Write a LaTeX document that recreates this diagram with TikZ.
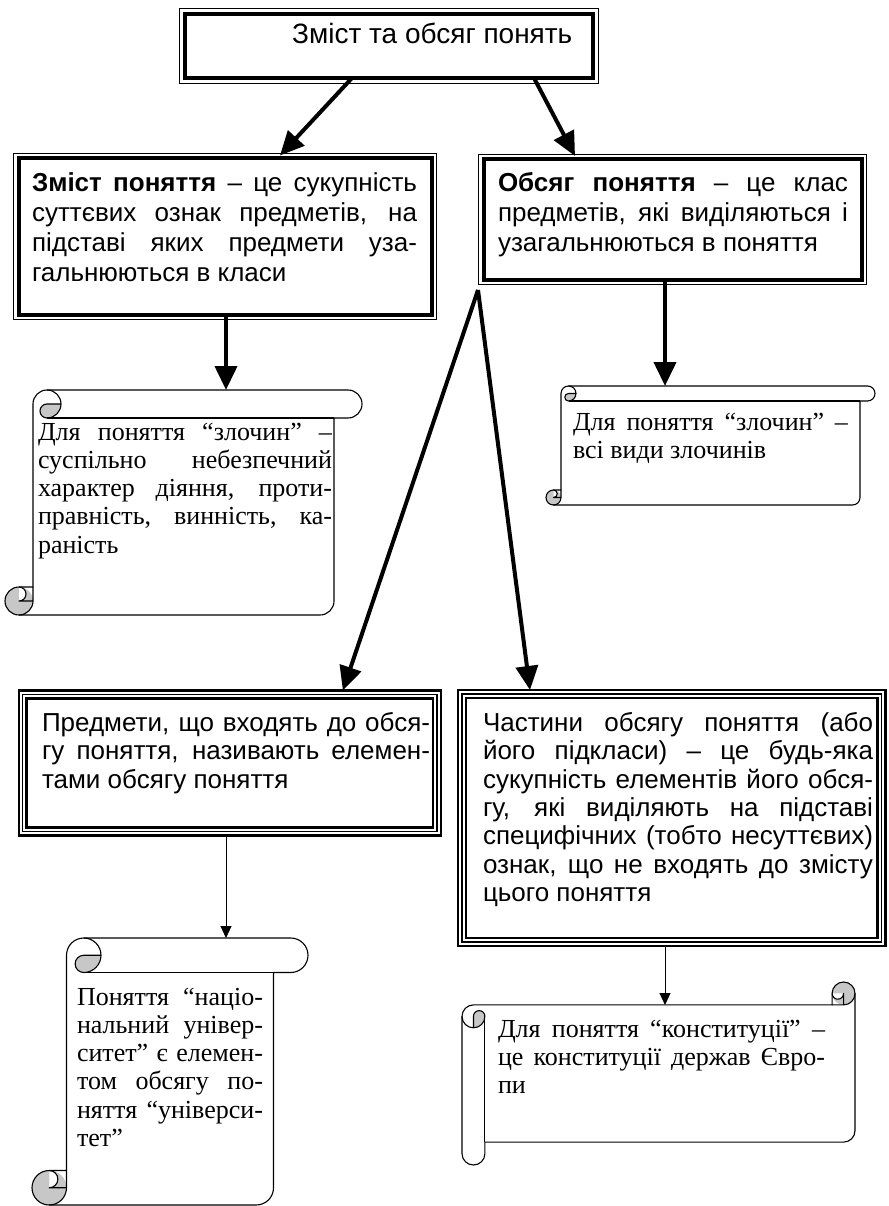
\documentclass[tikz,border=0pt]{standalone}
\usepackage{fontspec}
\newfontfamily\fsans{Liberation Sans}
\newfontfamily\fserif{Liberation Serif}
\usetikzlibrary{arrows.meta}
\definecolor{scrollgray}{gray}{0.78}
\newcommand{\jl}[2]{\leavevmode\hbox to #1pt{\spaceskip=\fontdimen2\font plus 1fil minus \fontdimen4\font\relax\strut #2}}
\newcommand{\lastln}[1]{\leavevmode\hbox{\spaceskip=\fontdimen2\font\relax\strut #1}}
\newcommand{\vscrollshape}[5]{%
 \pgfmathsetmacro{\scL}{#1}\pgfmathsetmacro{\scT}{#2}%
 \pgfmathsetmacro{\scR}{#3}\pgfmathsetmacro{\scB}{#4}%
 \pgfmathsetmacro{\scC}{#5}\pgfmathsetmacro{\scH}{#5/2}\pgfmathsetmacro{\scQ}{#5/4}%
 \fill[white] (\scL+\scC,\scT+\scH) arc[start angle=180,delta angle=90,radius=\scH]
   -- (\scR-\scH,\scT) arc[start angle=270,delta angle=180,radius=\scH]
   -- (\scR-\scC,\scT+\scC) -- (\scR-\scC,\scB-\scH) arc[start angle=0,delta angle=90,radius=\scH]
   -- (\scL+\scH,\scB) arc[start angle=90,delta angle=180,radius=\scH]
   -- (\scL+\scC,\scB-\scC) -- cycle;
 \fill[scrollgray] (\scL+2*\scC,\scT+\scH) arc[start angle=0,delta angle=90,radius=\scH]
   arc[start angle=90,delta angle=180,radius=\scQ] -- cycle;
 \fill[scrollgray] (\scL+\scH,\scB-\scH) circle[radius=\scH];
 \fill[white] (\scL+\scH,\scB-\scC) arc[start angle=270,delta angle=180,radius=\scQ] -- cycle;
 \draw[scrollline] (\scL+\scC,\scB-\scC) -- (\scL+\scC,\scT+\scH) arc[start angle=180,delta angle=90,radius=\scH]
   -- (\scR-\scH,\scT) arc[start angle=270,delta angle=180,radius=\scH]
   -- (\scR-\scC,\scT+\scC) -- (\scR-\scC,\scB-\scH) arc[start angle=0,delta angle=90,radius=\scH]
   -- (\scL+\scH,\scB) arc[start angle=90,delta angle=180,radius=\scH] -- cycle;
 \draw[scrollline] (\scL+\scC+\scH,\scT) arc[start angle=270,delta angle=180,radius=\scH]
   arc[start angle=90,delta angle=180,radius=\scQ] -- (\scL+2*\scC,\scT+\scH);
 \draw[scrollline] (\scR-\scC,\scT+\scC) -- (\scL+\scC+\scH,\scT+\scC);
 \draw[scrollline] (\scL+\scH,\scB-\scC) arc[start angle=270,delta angle=180,radius=\scQ] -- (\scL+\scC,\scB-\scH);
 \draw[scrollline] (\scL+\scH,\scB) arc[start angle=90,delta angle=-90,radius=\scH] -- (\scL+\scC,\scB-\scC);
}
\tikzset{
 thickbox/.style={draw, line width=4pt, fill=white, inner sep=0pt, outer sep=0pt},
 thinline/.style={draw, line width=0.9pt},
 tribox/.style={draw, line width=2.4pt, fill=white, inner sep=0pt, outer sep=0pt},
 midline/.style={draw, line width=1.3pt},
 innerline/.style={draw, line width=2.6pt},
 ghost/.style={inner sep=0pt, outer sep=0pt},
 scrollline/.style={line width=1.1pt, line join=round},
 bigarrow/.style={line width=4pt, -{Triangle[length=24pt,width=22pt]}},
 smallarrow/.style={line width=1pt, -{Triangle[length=12pt,width=11pt]}},
 sanstext/.style={anchor=north west, inner sep=0pt, outer sep=0pt, text width=#1pt, align=left, font=\fsans\fontsize{26}{30}\selectfont},
 sanstextb/.style={anchor=north west, inner sep=0pt, outer sep=0pt, text width=#1pt, align=left, font=\fsans\fontsize{26}{28.3}\selectfont},
 seriftext/.style={anchor=north west, inner sep=0pt, outer sep=0pt, text width=#1pt, align=left, font=\fserif\fontsize{26}{28.3}\selectfont},
}
\begin{document}
\begin{tikzpicture}[x=1pt,y=-1pt]
\useasboundingbox (0,0) rectangle (888,1206);
\fill[white] (0,0) rectangle (888,1206);

% boxes
\node[thickbox, minimum width=408pt, minimum height=64pt] (top) at (389,46) {};
\draw[thinline] ([shift={(-5.5pt,5.5pt)}]top.north west) rectangle ([shift={(5.5pt,-5.5pt)}]top.south east);
\node[font=\fsans\fontsize{28}{32}\selectfont, anchor=base west, inner sep=0pt] (toptxt) at (292,44) {Зміст та обсяг понять};

\node[thickbox, minimum width=413pt, minimum height=156pt] (b2) at (225,236.5) {};
\draw[thinline] ([shift={(-5pt,5pt)}]b2.north west) rectangle ([shift={(5pt,-5pt)}]b2.south east);

\node[thickbox, minimum width=378pt, minimum height=120pt] (b3) at (672.5,219.5) {};
\draw[thinline] ([shift={(-5pt,5pt)}]b3.north west) rectangle ([shift={(5pt,-5pt)}]b3.south east);

\node[tribox, minimum width=422.3pt, minimum height=145pt] (b4) at (229.85,763) {};
\draw[midline] ([shift={(4pt,-4pt)}]b4.north west) rectangle ([shift={(-4pt,4pt)}]b4.south east);
\draw[innerline] ([shift={(8pt,-8pt)}]b4.north west) rectangle ([shift={(-8pt,8pt)}]b4.south east);

\node[tribox, minimum width=427.5pt, minimum height=256pt] (b5) at (671.75,818) {};
\draw[midline] ([shift={(4pt,-4pt)}]b5.north west) rectangle ([shift={(-4pt,4pt)}]b5.south east);
\draw[innerline] ([shift={(8pt,-8pt)}]b5.north west) rectangle ([shift={(-8pt,8pt)}]b5.south east);

% scrolls
\node[ghost, minimum width=357pt, minimum height=225pt] (s1) at (183.5,502.5) {};
\node[ghost, minimum width=329pt, minimum height=119pt] (s2) at (710.5,445.5) {};
\node[ghost, minimum width=276pt, minimum height=267pt] (s3) at (170,1071.5) {};
\node[ghost, minimum width=393pt, minimum height=183pt] (s4) at (658.5,1073.5) {};
\vscrollshape{5}{390}{362}{615}{28}
\vscrollshape{546}{386}{875}{505}{15}
\vscrollshape{32}{938}{308}{1205}{34.5}
\begin{scope}[x={(0pt,-1pt)},y={(1pt,0pt)}]
\vscrollshape{982}{462}{1165}{855}{22.9}
\end{scope}

% arrows
\coordinate (apex) at (478,290);
\draw[bigarrow] ([xshift=-37pt]top.south) -- ([xshift=55pt,yshift=3pt]b2.north);
\draw[bigarrow] ([xshift=145pt]top.south) -- ([xshift=-97.5pt,yshift=3.5pt]b3.north);
\draw[bigarrow] ([xshift=1pt]b2.south) -- ([xshift=42.5pt]s1.north);
\draw[bigarrow] ([xshift=-7.5pt]b3.south) -- ([xshift=-45.5pt]s2.north);
\draw[bigarrow] (apex) -- ([xshift=113pt]b4.north);
\draw[bigarrow] (apex) -- ([xshift=-141.75pt]b5.north);
\draw[smallarrow] ([xshift=-3.85pt]b4.south) -- ([xshift=56pt]s3.north);
\draw[smallarrow] ([xshift=-6.75pt]b5.south) -- ([xshift=6.5pt,yshift=-23pt]s4.north);

% texts
\node[sanstext=385] (b2t) at (32,170.5) {%
\jl{385}{\textbf{Зміст поняття} – це сукупність}\\
\jl{385}{суттєвих ознак предметів, на}\\
\jl{385}{підставі яких предмети уза-}\\
\lastln{гальнюються в класи}};

\node[sanstext=350] (b3t) at (498,170.5) {%
\jl{350}{\textbf{Обсяг поняття} – це клас}\\
\jl{350}{предметів, які виділяються і}\\
\lastln{узагальнюються в поняття}};

\node[sanstextb=388] (b4t) at (42,711.7) {%
\jl{388}{Предмети, що входять до обся-}\\
\jl{388}{гу поняття, називають елемен-}\\
\lastln{тами обсягу поняття}};

\node[sanstextb=390] (b5t) at (483,711.7) {%
\jl{390}{Частини обсягу поняття (або}\\
\jl{390}{його підкласи) – це будь-яка}\\
\jl{390}{сукупність елементів його обся-}\\
\jl{390}{гу, які виділяють на підставі}\\
\jl{390}{специфічних (тобто несуттєвих)}\\
\jl{390}{ознак, що не входять до змісту}\\
\lastln{цього поняття}};

\node[seriftext=294] (s1t) at (38,420.2) {%
\jl{294}{Для поняття “злочин” –}\\
\jl{294}{суспільно небезпечний}\\
\jl{294}{характер діяння, проти-}\\
\jl{294}{правність, винність, ка-}\\
\lastln{раність}};

\node[seriftext=275] (s2t) at (573,410.2) {%
\jl{275}{Для поняття “злочин” –}\\
\lastln{всі види злочинів}};

\node[seriftext=186] (s3t) at (77,985.2) {%
\jl{186}{Поняття “націо-}\\
\jl{186}{нальний універ-}\\
\jl{186}{ситет” є елемен-}\\
\jl{186}{том обсягу по-}\\
\jl{186}{няття “універси-}\\
\lastln{тет”}};

\node[seriftext=327] (s4t) at (498,1017.2) {%
\jl{327}{Для поняття “конституції” –}\\
\jl{327}{це конституції держав Євро-}\\
\lastln{пи}};
\end{tikzpicture}
\end{document}
